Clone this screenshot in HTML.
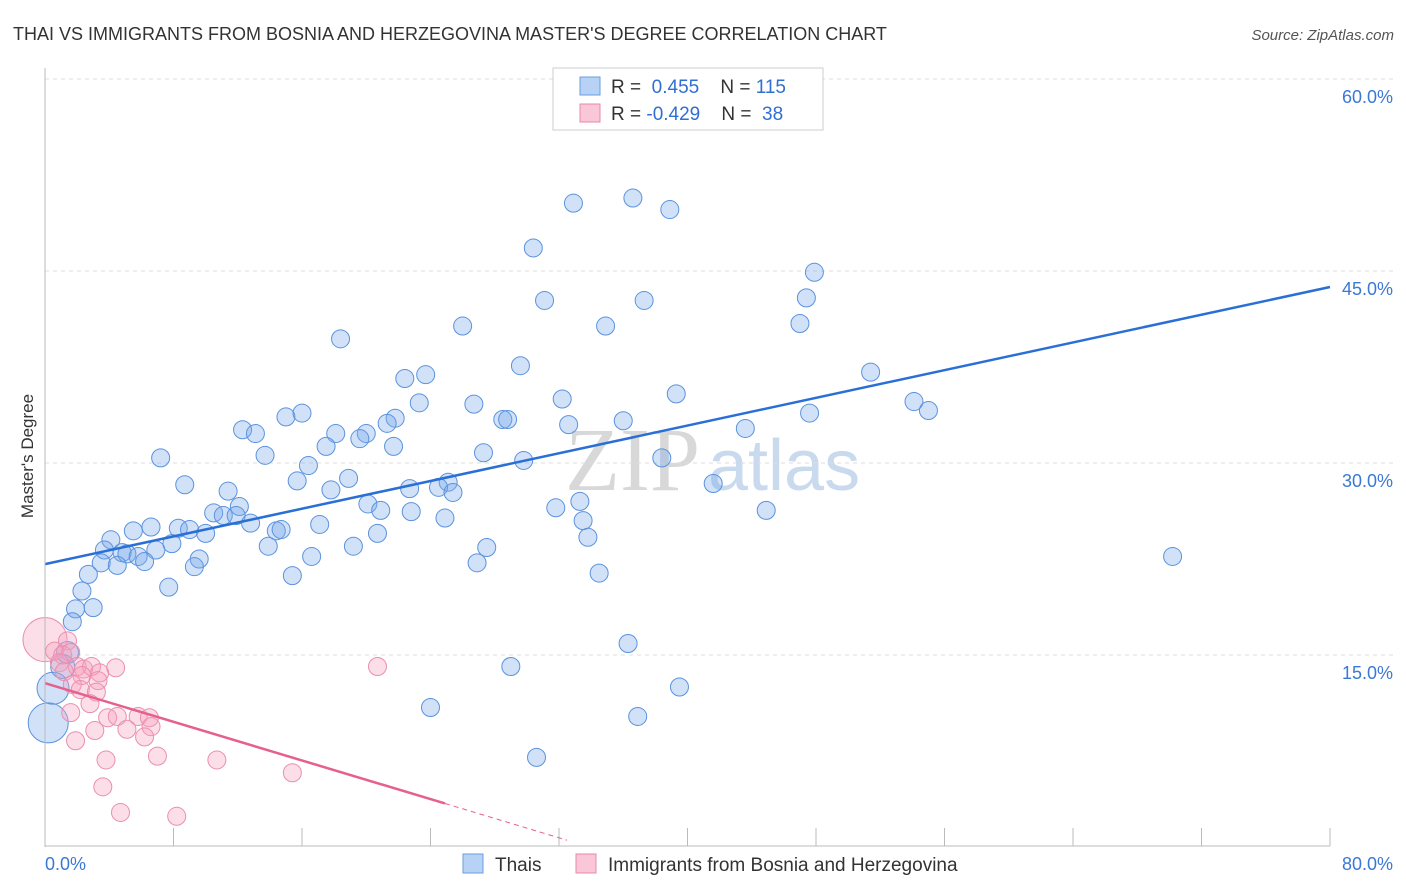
<!DOCTYPE html>
<html><head><meta charset="utf-8"><style>
body{margin:0;background:#fff;font-family:"Liberation Sans",sans-serif}
svg{display:block}
</style></head><body>
<svg id="c" width="1406" height="892">
<text x="13" y="40" font-size="18" fill="#333">THAI VS IMMIGRANTS FROM BOSNIA AND HERZEGOVINA MASTER'S DEGREE CORRELATION CHART</text>
<text x="1394" y="40" font-size="15" fill="#555" font-style="italic" text-anchor="end">Source: ZipAtlas.com</text>
<text x="33" y="456" font-size="17" fill="#333" transform="rotate(-90 33 456)" text-anchor="middle">Master's Degree</text>
<text x="700" y="490" font-size="90" fill="#d8d8d8" font-family="Liberation Serif" text-anchor="end">ZIP</text>
<text x="708" y="490" font-size="72" fill="#c9d9ee">atlas</text>
<g id="grid"></g><g id="pts"></g><g id="lines"></g>
<line x1="45" y1="68" x2="45" y2="847" stroke="#bbb"/>
<line x1="45" y1="846" x2="1330" y2="846" stroke="#bbb"/>
<text x="45" y="870" font-size="18" fill="#3a78d6">0.0%</text>
<text x="1393" y="870" font-size="18" fill="#3a78d6" text-anchor="end">80.0%</text>
<g>
<rect x="553" y="68" width="270" height="62" fill="#fff" stroke="#ccc"/>
<rect x="580" y="77" width="20" height="18" fill="#b7d2f5" stroke="#6a9de0"/>
<rect x="580" y="104" width="20" height="18" fill="#f9c7d7" stroke="#e88aa9"/>
<text x="611" y="93" font-size="19" fill="#333">R = <tspan fill="#2f6fd3">&#160;0.455</tspan>&#160;&#160;&#160;&#160;N = <tspan fill="#2f6fd3">115</tspan></text>
<text x="611" y="120" font-size="19" fill="#333">R = <tspan fill="#2f6fd3">-0.429</tspan>&#160;&#160;&#160;&#160;N = <tspan fill="#2f6fd3">&#160;38</tspan></text>
</g>
<g>
<rect x="463" y="854" width="20" height="19" fill="#b7d2f5" stroke="#6a9de0"/>
<text x="495" y="871" font-size="19" fill="#333">Thais</text>
<rect x="576" y="854" width="20" height="19" fill="#f9c7d7" stroke="#e88aa9"/>
<text x="608" y="871" font-size="19" fill="#333">Immigrants from Bosnia and Herzegovina</text>
</g>
</svg>
<script>
const yTicks=[15,30,45,60];
const xTicks=[0,8,16,24,32,40,48,56,64,72,80];
const blueX=[32.9,36.6,38.9,30.4,47.9,31.1,37.3,47.4,26.0,34.9,47.0,18.4,29.6,23.7,22.4,51.4,39.3,32.2,23.3,26.7,54.1,55.0,47.6,15.0,16.0,21.8,21.3,28.5,28.8,32.6,36.0,12.3,13.1,18.1,20.0,19.6,43.6,17.5,21.7,13.7,27.3,7.2,29.8,38.4,16.4,8.7,15.7,18.9,25.1,24.5,22.7,25.4,11.4,17.8,41.6,33.3,20.1,12.1,31.8,10.5,11.1,11.9,20.9,22.8,44.9,24.9,33.5,12.8,17.1,6.6,8.3,9.0,5.5,14.4,14.7,10.0,20.7,33.8,4.1,7.9,13.9,19.2,27.5,3.7,4.8,5.1,6.9,5.8,9.6,16.6,6.2,3.5,4.5,26.9,70.2,9.3,2.7,15.4,34.5,7.7,2.3,1.9,3.0,1.7,36.3,1.4,1.1,29.0,39.5,0.5,24.0,36.9,0.2,30.6];
const blueY=[50.3,50.7,49.8,46.8,44.9,42.7,42.7,42.9,40.7,40.7,40.9,39.7,37.6,36.9,36.6,37.1,35.4,35.0,34.7,34.6,34.8,34.1,33.9,33.6,33.9,33.5,33.1,33.4,33.4,33.0,33.3,32.6,32.3,32.3,32.3,31.9,32.7,31.3,31.3,30.6,30.8,30.4,30.2,30.4,29.8,28.3,28.6,28.8,28.5,28.1,28.0,27.7,27.8,27.9,28.4,27.0,26.8,26.6,26.5,26.1,25.9,25.9,26.3,26.2,26.3,25.7,25.5,25.3,25.2,25.0,24.9,24.8,24.7,24.7,24.8,24.5,24.5,24.2,24.0,23.7,23.5,23.5,23.4,23.2,23.0,22.9,23.2,22.7,22.5,22.7,22.3,22.2,22.0,22.2,22.7,21.9,21.3,21.2,21.4,20.3,20.0,18.6,18.7,17.6,15.9,15.2,14.1,14.1,12.5,12.4,10.9,10.2,9.7,7.0];
const pinkX=[0,1.4,0.6,1.1,1.6,0.9,2.0,2.4,2.9,4.4,20.7,2.3,3.4,1.2,3.3,1.7,2.2,3.2,2.8,1.6,3.9,4.5,5.8,6.5,6.6,3.1,5.1,6.2,1.9,7.0,3.8,10.7,15.4,3.6,4.7,8.2];
const pinkY=[16.2,16.1,15.3,15.0,15.2,14.4,14.1,13.9,14.1,14.0,14.1,13.4,13.6,13.7,13.0,12.7,12.3,12.1,11.2,10.5,10.1,10.2,10.2,10.1,9.4,9.1,9.2,8.6,8.3,7.1,6.8,6.8,5.8,4.7,2.7,2.4];
const blueTrend=[22.1,43.75];
const pinkTrend=[12.8,-17.4];
const X0=45,X1=1330,Y0=847,Y1=79;
const sx=v=>X0+(X1-X0)*v/80, sy=v=>Y0-(Y0-Y1)*v/60;
const blueR=v=>v>=1.5?9:v<=0.3?20:v<=0.6?16:v<=1.2?12:11;
const NS='http://www.w3.org/2000/svg';
function mk(t,a,p){const e=document.createElementNS(NS,t);for(const k in a)e.setAttribute(k,a[k]);p.appendChild(e);return e;}
const G=document.getElementById('grid'),P=document.getElementById('pts'),L=document.getElementById('lines');
yTicks.forEach(t=>{const l=mk('line',{x1:45,x2:1393,y1:sy(t),y2:sy(t),stroke:'#ddd','stroke-dasharray':'4,4'},G);


const tx=mk('text',{x:1393,y:sy(t)+24,'font-size':18,fill:'#3a78d6','text-anchor':'end'},G);tx.textContent=t.toFixed(1)+'%';

});
xTicks.forEach(t=>{const l=mk('line',{x1:sx(t),x2:sx(t),y1:828,y2:846,stroke:'#bbb'},G);

});
blueX.forEach((v,i)=>{const c=mk('circle',{cx:sx(v),cy:sy(blueY[i]),r:blueR(v),fill:'rgba(120,170,235,0.35)',stroke:'#5b93de','stroke-width':1},P);

});
pinkX.forEach((v,i)=>{const c=mk('circle',{cx:sx(v),cy:sy(pinkY[i]),r:i==0?22:9,fill:'rgba(245,160,190,0.35)',stroke:'#ea8fae','stroke-width':1},P);

});
const bl=mk('line',{x1:sx(0),y1:sy(blueTrend[0]),x2:sx(80),y2:sy(blueTrend[1]),stroke:'#2a6fd6','stroke-width':2.5},L);


const slope=(pinkTrend[1]-pinkTrend[0])/80, py=x=>pinkTrend[0]+slope*x;
const pl=mk('line',{x1:sx(0),y1:sy(py(0)),x2:sx(24.9),y2:sy(py(24.9)),stroke:'#e5608e','stroke-width':2.5},L);


const pd=mk('line',{x1:sx(24.9),y1:sy(py(24.9)),x2:sx(32.5),y2:sy(py(32.5)),stroke:'#e5608e','stroke-width':1,'stroke-dasharray':'5,4'},L);


</script>
</body></html>
